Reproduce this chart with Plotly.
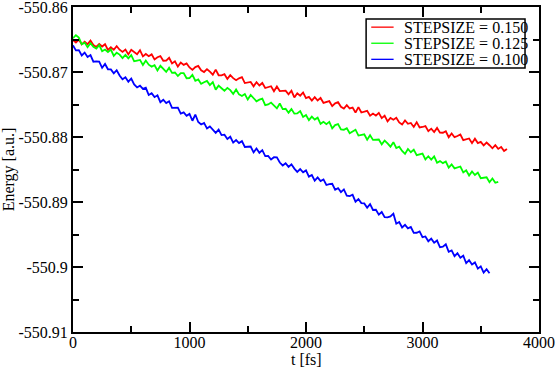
import plotly.graph_objects as go

# Energy drift for three time steps (xmgrace style plot)
t_red = list(range(0, 3750, 25))
t_green = list(range(0, 3675, 25))
t_blue = list(range(0, 3600, 25))

e_red = [
    -550.86508, -550.86547, -550.86501, -550.86575, -550.86534, -550.86573, -550.86517, -550.86586, -550.86615, -550.86569,
    -550.86608, -550.86572, -550.86661, -550.86620, -550.86659, -550.86603, -550.86657, -550.86691, -550.86655, -550.86729,
    -550.86658, -550.86697, -550.86726, -550.86665, -550.86759, -550.86723, -550.86757, -550.86729, -550.86806, -550.86773,
    -550.86755, -550.86827, -550.86824, -550.86781, -550.86868, -550.86835, -550.86917, -550.86854, -550.86891, -550.86868,
    -550.86930, -550.86967, -550.86924, -550.86906, -550.86973, -550.87000, -550.86957, -550.86994, -550.87041, -550.86963,
    -550.87050, -550.87052, -550.87034, -550.87106, -550.87048, -550.87094, -550.87126, -550.87097, -550.87079, -550.87170,
    -550.87157, -550.87153, -550.87220, -550.87156, -550.87208, -550.87169, -550.87246, -550.87227, -550.87219, -550.87295,
    -550.87222, -550.87293, -550.87290, -550.87286, -550.87343, -550.87289, -550.87391, -550.87327, -550.87364, -550.87315,
    -550.87402, -550.87383, -550.87440, -550.87386, -550.87438, -550.87399, -550.87476, -550.87462, -550.87449, -550.87525,
    -550.87482, -550.87464, -550.87535, -550.87562, -550.87509, -550.87561, -550.87548, -550.87624, -550.87541, -550.87623,
    -550.87610, -550.87597, -550.87673, -550.87640, -550.87672, -550.87629, -550.87711, -550.87672, -550.87759, -550.87706,
    -550.87733, -550.87705, -550.87776, -550.87808, -550.87745, -550.87797, -550.87784, -550.87845, -550.87772, -550.87854,
    -550.87846, -550.87833, -550.87910, -550.87872, -550.87924, -550.87861, -550.87933, -550.87935, -550.87912, -550.88004,
    -550.87946, -550.88003, -550.87985, -550.87962, -550.88049, -550.88036, -550.88023, -550.88095, -550.88027, -550.88094,
    -550.88076, -550.88128, -550.88085, -550.88127, -550.88174, -550.88126, -550.88183, -550.88155, -550.88217, -550.88184,
]

e_green = [
    -550.86480, -550.86434, -550.86469, -550.86574, -550.86548, -550.86618, -550.86557, -550.86612, -550.86641, -550.86586,
    -550.86680, -550.86655, -550.86694, -550.86654, -550.86753, -550.86703, -550.86732, -550.86787, -550.86736, -550.86791,
    -550.86740, -550.86835, -550.86824, -550.86814, -550.86893, -550.86823, -550.86887, -550.86917, -550.86896, -550.86976,
    -550.86905, -550.86945, -550.86999, -550.86934, -550.87013, -550.87008, -550.87062, -550.87017, -550.87016, -550.87096,
    -550.87095, -550.87045, -550.87134, -550.87114, -550.87183, -550.87158, -550.87137, -550.87202, -550.87156, -550.87271,
    -550.87210, -550.87250, -550.87289, -550.87244, -550.87279, -550.87339, -550.87269, -550.87344, -550.87369, -550.87339,
    -550.87424, -550.87354, -550.87404, -550.87450, -550.87425, -550.87410, -550.87510, -550.87500, -550.87470, -550.87520,
    -550.87560, -550.87485, -550.87570, -550.87566, -550.87626, -550.87571, -550.87641, -550.87636, -550.87601, -550.87691,
    -550.87661, -550.87741, -550.87686, -550.87732, -550.87702, -550.87797, -550.87767, -550.87802, -550.87767, -550.87867,
    -550.87817, -550.87802, -550.87882, -550.87888, -550.87863, -550.87943, -550.87913, -550.87888, -550.87978, -550.87973,
    -550.87958, -550.88043, -550.87973, -550.88044, -550.88044, -550.88039, -550.88114, -550.88054, -550.88099, -550.88149,
    -550.88079, -550.88169, -550.88149, -550.88215, -550.88260, -550.88185, -550.88235, -550.88195, -550.88280, -550.88270,
    -550.88255, -550.88345, -550.88296, -550.88347, -550.88299, -550.88395, -550.88371, -550.88402, -550.88378, -550.88470,
    -550.88421, -550.88482, -550.88473, -550.88454, -550.88546, -550.88512, -550.88593, -550.88529, -550.88585, -550.88547,
    -550.88633, -550.88624, -550.88620, -550.88696, -550.88638, -550.88704, -550.88690,
]

e_blue = [
    -550.86590, -550.86667, -550.86663, -550.86745, -550.86701, -550.86768, -550.86739, -550.86841, -550.86837, -550.86839,
    -550.86935, -550.86877, -550.86958, -550.86960, -550.87021, -550.86973, -550.87054, -550.87111, -550.87082, -550.87149,
    -550.87100, -550.87192, -550.87238, -550.87210, -550.87261, -550.87243, -550.87354, -550.87326, -550.87387, -550.87359,
    -550.87465, -550.87427, -550.87478, -550.87450, -550.87551, -550.87548, -550.87549, -550.87641, -550.87622, -550.87674,
    -550.87645, -550.87750, -550.87654, -550.87769, -550.87808, -550.87783, -550.87868, -550.87837, -550.87882, -550.87936,
    -550.87886, -550.87971, -550.87965, -550.88030, -550.87996, -550.88086, -550.88047, -550.88093, -550.88064, -550.88154,
    -550.88150, -550.88146, -550.88236, -550.88177, -550.88243, -550.88203, -550.88294, -550.88290, -550.88346, -550.88311,
    -550.88312, -550.88393, -550.88438, -550.88404, -550.88460, -550.88420, -550.88486, -550.88537, -550.88493, -550.88543,
    -550.88514, -550.88610, -550.88585, -550.88671, -550.88622, -550.88677, -550.88653, -550.88739, -550.88725, -550.88720,
    -550.88811, -550.88786, -550.88847, -550.88807, -550.88903, -550.88909, -550.88889, -550.88995, -550.88955, -550.89016,
    -550.89022, -550.89087, -550.89033, -550.89123, -550.89119, -550.89195, -550.89154, -550.89233, -550.89237, -550.89221,
    -550.89180, -550.89334, -550.89309, -550.89393, -550.89352, -550.89406, -550.89385, -550.89474, -550.89473, -550.89452,
    -550.89541, -550.89530, -550.89604, -550.89564, -550.89628, -550.89593, -550.89697, -550.89686, -550.89651, -550.89765,
    -550.89745, -550.89834, -550.89788, -550.89858, -550.89827, -550.89942, -550.89896, -550.89960, -550.89930, -550.90025,
    -550.89990, -550.90085, -550.90035, -550.90095,
]

names = ["STEPSIZE = 0.150", "STEPSIZE = 0.125", "STEPSIZE = 0.100"]
colors = ["#ff0000", "#00ff00", "#0000ff"]
y_ticks = [-550.91, -550.90, -550.89, -550.88, -550.87, -550.86]
y_ticktext = ["-550.91", "-550.9", "-550.89", "-550.88", "-550.87", "-550.86"]

font = "Liberation Serif"

fig = go.Figure()
for t, e, name, col in zip([t_red, t_green, t_blue], [e_red, e_green, e_blue], names, colors):
    fig.add_trace(go.Scatter(x=t, y=e, mode="lines", name=name, showlegend=False,
                             line=dict(color=col, width=1.8)))

axis_common = dict(
    showline=True, linecolor="black", linewidth=2, mirror="allticks",
    ticks="inside", ticklen=10, tickwidth=2, tickcolor="black",
    showgrid=False, zeroline=False, automargin=False, ticklabeloverflow="allow",
    tickfont=dict(family=font, size=16, color="black"),
)

fig.update_xaxes(
    range=[0, 4000], dtick=1000, tick0=0, ticklabelstandoff=-5,
    minor=dict(ticks="inside", dtick=500, ticklen=6, tickwidth=2, tickcolor="black", showgrid=False),
    **axis_common,
)
fig.update_yaxes(
    range=[-550.91, -550.86], tickmode="array", tickvals=y_ticks, ticktext=y_ticktext,
    minor=dict(ticks="inside", tickmode="linear", tick0=-550.91, dtick=0.005, ticklen=6,
               tickwidth=2, tickcolor="black", showgrid=False),
    title=dict(text="Energy [a.u.]", font=dict(family=font, size=16, color="black"), standoff=2),
    **axis_common,
)

# x axis title placed just under the tick labels, as in the original
fig.add_annotation(text="t [fs]", xref="paper", yref="paper", x=0.5, y=-0.086,
                   xanchor="center", yanchor="middle", showarrow=False,
                   font=dict(family=font, size=16, color="black"))

# legend box drawn in xmgrace style (paper coordinates)
fig.add_shape(type="rect", xref="paper", yref="paper", x0=0.629, x1=0.970, y0=0.812, y1=0.963,
              line=dict(color="black", width=1.5), fillcolor="white", layer="above")
for i, (name, col) in enumerate(zip(names, colors)):
    yy = 0.938 - i * 0.0495
    fig.add_shape(type="line", xref="paper", yref="paper", x0=0.640, x1=0.688, y0=yy, y1=yy,
                  line=dict(color=col, width=1.3), layer="above")
    fig.add_annotation(text=name, xref="paper", yref="paper", x=0.706, y=yy,
                       xanchor="left", yanchor="middle", showarrow=False,
                       font=dict(family=font, size=16, color="black"))

fig.update_layout(
    width=556, height=368,
    margin=dict(l=73, r=17, t=7, b=36),
    paper_bgcolor="white", plot_bgcolor="white",
    font=dict(family=font, size=16, color="black"),
    showlegend=False,
)

fig.write_html("out.html", config={"displayModeBar": False},
               post_script="document.body.style.margin='0';")
